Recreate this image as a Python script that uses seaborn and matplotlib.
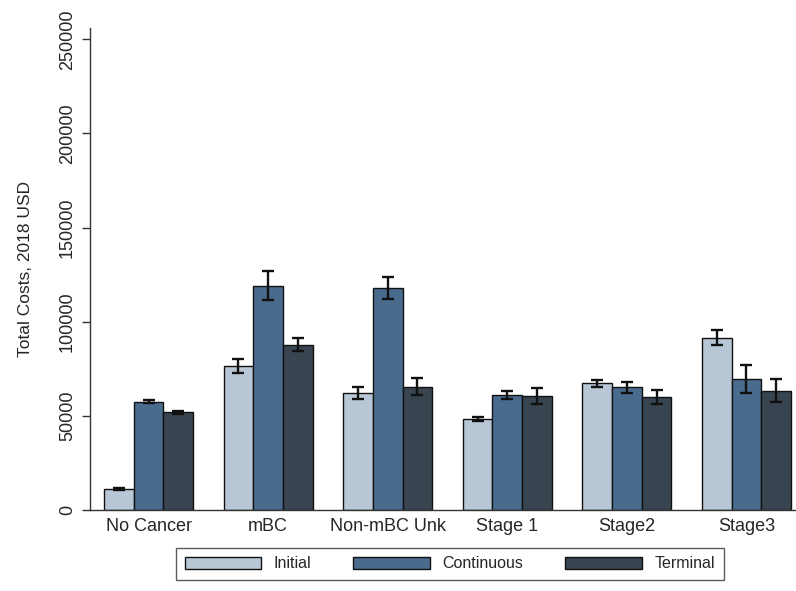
import pandas as pd
import matplotlib
matplotlib.use("Agg")
import matplotlib.pyplot as plt
import seaborn as sns

# values
categories = ["No Cancer", "mBC", "Non-mBC Unk", "Stage 1", "Stage2", "Stage3"]
phases = ["Initial", "Continuous", "Terminal"]
initial = [11300, 76400, 62100, 48200, 67400, 91500]
continuous = [57600, 119200, 118000, 61200, 65100, 69700]
terminal = [51800, 87900, 65600, 60600, 59900, 63300]
err_initial = [500, 3700, 3000, 1100, 1900, 3900]
err_continuous = [700, 7500, 5900, 2000, 2700, 7400]
err_terminal = [1000, 3500, 4300, 4100, 3600, 6100]
yticks = [0, 50000, 100000, 150000, 200000, 250000]

colors = ["#b7c7d5", "#496b8d", "#38444f"]

# long format table for seaborn
rows = []
for vals, errs, ph in [(initial, err_initial, "Initial"),
                       (continuous, err_continuous, "Continuous"),
                       (terminal, err_terminal, "Terminal")]:
    for cat, v, e in zip(categories, vals, errs):
        rows.append({"Group": cat, "Phase": ph, "Cost": v, "Err": e})
df = pd.DataFrame(rows)

sns.set_style("white")
plt.rcParams["font.family"] = ["Liberation Sans", "DejaVu Sans"]

fig = plt.figure(figsize=(7.96, 5.91), dpi=100)
ax = fig.add_axes([0.113, 0.137, 0.887, 0.8156])

sns.barplot(data=df, x="Group", y="Cost", hue="Phase", order=categories,
            hue_order=phases, palette=colors, errorbar=None, width=0.744,
            gap=0, edgecolor="#111111", linewidth=1.0, saturation=1, ax=ax)

# error bars on top of each bar
for cont, ph in zip(ax.containers, phases):
    sub = df[df["Phase"] == ph].set_index("Group").loc[categories]
    xs = [b.get_x() + b.get_width() / 2 for b in cont]
    ax.errorbar(xs, sub["Cost"], yerr=sub["Err"], fmt="none",
                ecolor="#111111", elinewidth=1.7, capsize=4.2, capthick=1.7,
                zorder=5)

ax.set_ylim(0, 256000)
ax.set_xlim(-0.49, 5.414)
ax.set_yticks(yticks)
ax.set_yticklabels([str(t) for t in yticks], rotation=90, va="center")
ax.tick_params(axis="y", length=6, width=1, color="#333333", labelsize=13, pad=4,
               left=True)
ax.tick_params(axis="x", length=0, labelsize=13, pad=6)
ax.set_xlabel("")
ax.set_ylabel("Total Costs, 2018 USD", fontsize=12.5, labelpad=19)

sns.despine(ax=ax, top=True, right=True)
for side in ["left", "bottom"]:
    ax.spines[side].set_color("#333333")
    ax.spines[side].set_linewidth(1.0)

handles, labels = ax.get_legend_handles_labels()
ax.get_legend().remove()
leg = fig.legend(handles, labels, loc="center", bbox_to_anchor=(0.565, 0.0457),
                 ncol=3, frameon=True, fancybox=False, fontsize=11.5,
                 handlelength=4.8, handleheight=0.8, handletextpad=0.8,
                 columnspacing=2.6, borderpad=0.55, borderaxespad=0)
leg.get_frame().set_edgecolor("#333333")
leg.get_frame().set_linewidth(1.0)

fig.savefig("out.png", dpi=100)
